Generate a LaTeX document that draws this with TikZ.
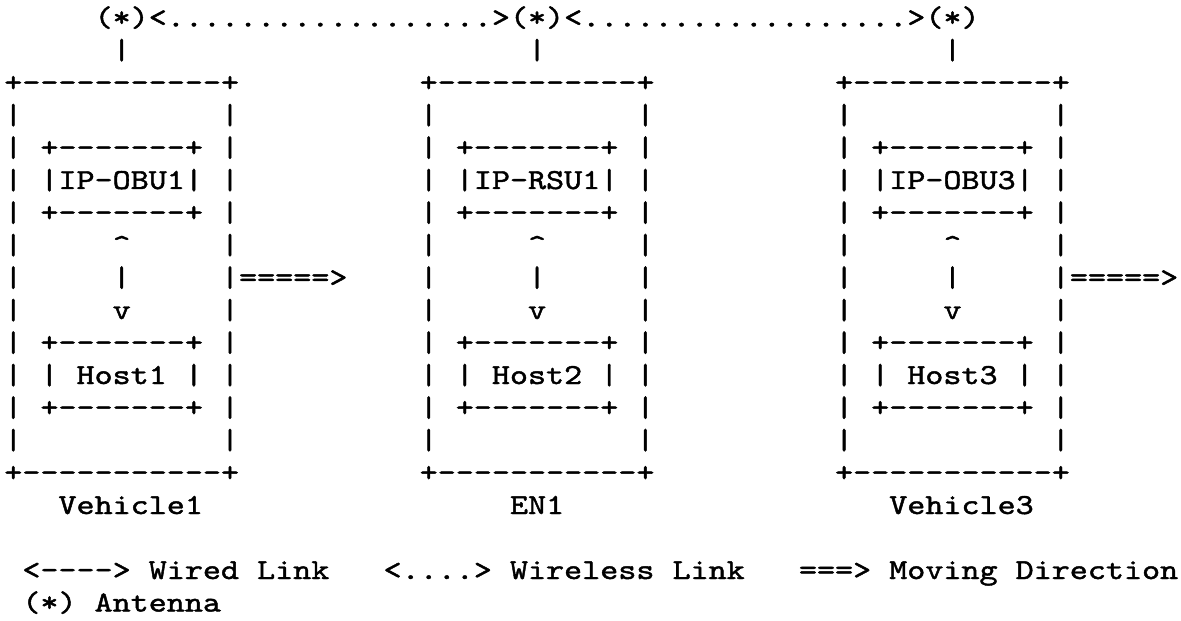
\documentclass[tikz,border=0pt]{standalone}
\usepackage{fontspec}
\newfontfamily\asc[FakeStretch=1.1862,FakeBold=1.5,Ligatures=TeXOff]{lmmono10-regular.otf}
\tikzset{
  asc/.style={font=\asc\fontsize{14.5pt}{16pt}\selectfont, anchor=base west,
              inner sep=0pt, outer sep=0pt, text=black}
}
\begin{document}
\begin{tikzpicture}[x=9.03pt, y=-16.25pt]
\path[use as bounding box, fill=white] (0pt,0pt) rectangle (590.5pt,-310pt);
\begin{scope}[shift={(2.15pt,-13.25pt)}]
  \foreach \k/\bc/\ipn/\hn/\vn/\lc in {0/0/IP-OBU1/Host1/Vehicle1/3,
                                       1/23/IP-RSU1/Host2/EN1/5,
                                       2/46/IP-OBU3/Host3/Vehicle3/3}{
    % antenna and stem
    \node[asc] (ant\k)  at (\bc+5,0) {(*)};
    \node[asc] (stem\k) at (\bc+6,1) {|};
    % outer box
    \node[asc] (otop\k) at (\bc,2)  {+-----------+};
    \node[asc] (obot\k) at (\bc,14) {+-----------+};
    \foreach \r in {3,...,13}{
      \node[asc] (ol\k-\r) at (\bc,\r)    {|};
      \node[asc] (or\k-\r) at (\bc+12,\r) {|};
    }
    % upper inner box
    \node[asc] (itop\k) at (\bc+2,4) {+-------+};
    \node[asc] (iip\k)  at (\bc+2,5) {|\ipn|};
    \node[asc] (ibot\k) at (\bc+2,6) {+-------+};
    % wired link inside
    \node[asc] (up\k)  at (\bc+6,7) {\symbol{94}};
    \node[asc] (mid\k) at (\bc+6,8) {|};
    \node[asc] (dn\k)  at (\bc+6,9) {v};
    % lower inner box
    \node[asc] (htop\k) at (\bc+2,10) {+-------+};
    \node[asc] (host\k) at (\bc+2,11) {|~\hn~|};
    \node[asc] (hbot\k) at (\bc+2,12) {+-------+};
    % label
    \node[asc] (lab\k) at (\bc+\lc,15) {\vn};
  }
  % wireless links between antennas
  \node[asc] (wl0) at (8,0)  {<..................>};
  \node[asc] (wl1) at (31,0) {<..................>};
  % moving direction arrows
  \node[asc] (mv0) at (13,8) {=====>};
  \node[asc] (mv2) at (59,8) {=====>};
  % legend
  \node[asc] (lg1) at (1,17)  {<---->~Wired~Link};
  \node[asc] (lg2) at (21,17) {<....>~Wireless~Link};
  \node[asc] (lg3) at (44,17) {===>~Moving~Direction};
  \node[asc] (lg4) at (1,18)  {(*)~Antenna};
\end{scope}
\end{tikzpicture}
\end{document}
